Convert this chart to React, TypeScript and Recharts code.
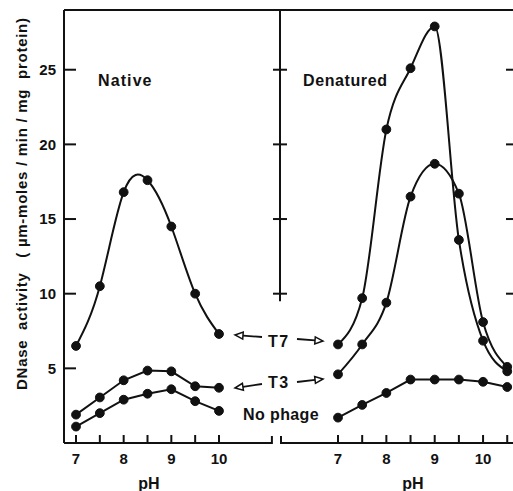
import React from 'react';
import { LineChart, Line, XAxis, YAxis, ReferenceLine } from 'recharts';

const nativePH = [7, 7.5, 8, 8.5, 9, 9.5, 10];
const nativeT7 = [6.5, 10.5, 16.8, 17.6, 14.5, 10.0, 7.3];
const nativeT3 = [1.9, 3.05, 4.2, 4.85, 4.8, 3.8, 3.7];
const nativeNoPhage = [1.1, 2.0, 2.9, 3.3, 3.6, 2.8, 2.15];

const denaturedPH = [7, 7.5, 8, 8.5, 9, 9.5, 10, 10.5];
const denaturedT7 = [6.6, 9.7, 21.0, 25.1, 27.9, 13.6, 6.85, 4.8];
const denaturedT3 = [4.6, 6.6, 9.4, 16.5, 18.7, 16.7, 8.1, 5.1];
const denaturedNoPhage = [1.7, 2.55, 3.35, 4.25, 4.25, 4.25, 4.1, 3.75];

const yTicks = [5, 10, 15, 20, 25];
const midTicks = [10, 15, 20, 25];
const nativeXTicks = [7, 7.5, 8, 8.5, 9, 9.5, 10];
const denaturedXTicks = [7, 7.5, 8, 8.5, 9, 9.5, 10, 10.5];

const nativeRows = nativePH.map((ph, i) => ({
  ph,
  t7: nativeT7[i],
  t3: nativeT3[i],
  none: nativeNoPhage[i],
}));
const denaturedRows = denaturedPH.map((ph, i) => ({
  ph,
  t7: denaturedT7[i],
  t3: denaturedT3[i],
  none: denaturedNoPhage[i],
}));

// axis domains
const Y_MAX = 29;
const N_X0 = 6.748;
const N_X1 = 11.28;
const N_BREAK = 11.11;
const D_X0 = 5.8;
const D_X1 = 10.64;

// plot boxes (px) – same numbers the charts get through width/height/margins
const TOP = 10;
const BOTTOM = 443;
const N_LEFT = 64;
const N_RIGHT = 280;
const D_LEFT = 280;
const D_RIGHT = 514;
const py = (v: number) => BOTTOM - (v / Y_MAX) * (BOTTOM - TOP);
const pxN = (v: number) => N_LEFT + ((v - N_X0) / (N_X1 - N_X0)) * (N_RIGHT - N_LEFT);
const pxD = (v: number) => D_LEFT + ((v - D_X0) / (D_X1 - D_X0)) * (D_RIGHT - D_LEFT);

const FONT = '"Liberation Sans", Arial, sans-serif';
const INK = '#111';
const dot = { r: 4.4, fill: INK, stroke: INK, strokeWidth: 1 };
const tickFont = { fontSize: 15, fontWeight: 'bold', fill: INK, fontFamily: FONT };
const intOnly = (v: number) => (Number.isInteger(v) ? String(v) : '');

const Arrow = ({ x1, y1, x2, y2 }: { x1: number; y1: number; x2: number; y2: number }) => {
  // shaft from (x1,y1), hollow head with tip at (x2,y2)
  const a = Math.atan2(y2 - y1, x2 - x1);
  const L = 8;
  const W = 3.5;
  const bx = x2 - L * Math.cos(a);
  const by = y2 - L * Math.sin(a);
  const px = -Math.sin(a) * W;
  const py2 = Math.cos(a) * W;
  return (
    <g>
      <line x1={x1} y1={y1} x2={bx} y2={by} stroke={INK} strokeWidth={1.8} />
      <polygon
        points={`${x2},${y2} ${bx + px},${by + py2} ${bx - px},${by - py2}`}
        fill="#fff"
        stroke={INK}
        strokeWidth={1.5}
      />
    </g>
  );
};

const L = (x1: number, y1: number, x2: number, y2: number, key: string) => (
  <line key={key} x1={x1} y1={y1} x2={x2} y2={y2} stroke={INK} strokeWidth={2} />
);

export default function App() {
  const lbl = { fontFamily: FONT, fontWeight: 'bold' as const, fill: INK };
  return (
    <div
      style={{
        position: 'absolute',
        left: 0,
        top: 0,
        width: 513,
        height: 491,
        overflow: 'hidden',
        background: '#fff',
      }}
    >
      <div style={{ position: 'absolute', left: 0, top: 0 }}>
        <LineChart width={N_RIGHT} height={491} data={nativeRows} margin={{ top: TOP, right: 0, left: 0, bottom: 0 }}>
          <XAxis
            dataKey="ph"
            type="number"
            domain={[N_X0, N_X1]}
            ticks={nativeXTicks}
            interval={0}
            allowDataOverflow
            axisLine={false}
            tickLine={false}
            tickSize={0}
            tickMargin={10}
            tickFormatter={intOnly}
            height={491 - BOTTOM}
            tick={tickFont}
          />
          <YAxis
            domain={[0, Y_MAX]}
            ticks={yTicks}
            interval={0}
            width={N_LEFT}
            axisLine={{ stroke: INK, strokeWidth: 2 }}
            tickLine={false}
            tickSize={0}
            tickMargin={8}
            tick={tickFont}
          />
          <ReferenceLine y={Y_MAX} stroke={INK} strokeWidth={2} />
          <ReferenceLine
            segment={[
              { x: N_X0, y: 0 },
              { x: N_BREAK, y: 0 },
            ]}
            stroke={INK}
            strokeWidth={2}
          />
          <Line type="natural" dataKey="t7" stroke={INK} strokeWidth={2} dot={dot} activeDot={false} isAnimationActive={false} />
          <Line type="linear" dataKey="t3" stroke={INK} strokeWidth={2} dot={dot} activeDot={false} isAnimationActive={false} />
          <Line type="linear" dataKey="none" stroke={INK} strokeWidth={2} dot={dot} activeDot={false} isAnimationActive={false} />
        </LineChart>
      </div>

      <div style={{ position: 'absolute', left: D_LEFT - 10, top: 0 }}>
        <LineChart width={D_RIGHT - D_LEFT + 10} height={491} data={denaturedRows} margin={{ top: TOP, right: 0, left: 10, bottom: 0 }}>
          <XAxis
            dataKey="ph"
            type="number"
            domain={[D_X0, D_X1]}
            ticks={denaturedXTicks}
            interval={0}
            allowDataOverflow
            axisLine={{ stroke: INK, strokeWidth: 2 }}
            tickLine={false}
            tickSize={0}
            tickMargin={10}
            tickFormatter={intOnly}
            height={491 - BOTTOM}
            tick={tickFont}
          />
          <YAxis domain={[0, Y_MAX]} width={0} hide />
          <ReferenceLine y={Y_MAX} stroke={INK} strokeWidth={2} />
          <ReferenceLine
            segment={[
              { x: D_X0, y: 9.5 },
              { x: D_X0, y: Y_MAX },
            ]}
            stroke={INK}
            strokeWidth={2}
          />
          <Line type="monotone" dataKey="t7" stroke={INK} strokeWidth={2} dot={dot} activeDot={false} isAnimationActive={false} />
          <Line type="monotone" dataKey="t3" stroke={INK} strokeWidth={2} dot={dot} activeDot={false} isAnimationActive={false} />
          <Line type="linear" dataKey="none" stroke={INK} strokeWidth={2} dot={dot} activeDot={false} isAnimationActive={false} />
        </LineChart>
      </div>

      <svg width={513} height={491} style={{ position: 'absolute', left: 0, top: 0, pointerEvents: 'none' }}>
        {/* inward tick marks */}
        {yTicks.map((v) => L(N_LEFT, py(v), N_LEFT + 12, py(v), 'yl' + v))}
        {midTicks.map((v) => L(D_LEFT - 7, py(v), D_LEFT + 7, py(v), 'ym' + v))}
        {midTicks.map((v) => L(D_RIGHT - 8, py(v), D_RIGHT, py(v), 'yr' + v))}
        {nativeXTicks.map((v) => L(pxN(v), BOTTOM, pxN(v), BOTTOM - 8, 'xn' + v))}
        {denaturedXTicks.map((v) => L(pxD(v), BOTTOM, pxD(v), BOTTOM - 8, 'xd' + v))}
        {L(pxN(N_BREAK), BOTTOM + 1, pxN(N_BREAK), BOTTOM - 7, 'bn')}
        {L(D_LEFT + 1, BOTTOM + 1, D_LEFT + 1, BOTTOM - 7, 'bd')}

        <text x={98} y={86} fontSize={16} letterSpacing={1.1} {...lbl}>
          Native
        </text>
        <text x={303} y={86} fontSize={16} letterSpacing={0.6} {...lbl}>
          Denatured
        </text>

        <text x={268} y={347} fontSize={16} letterSpacing={1.5} {...lbl}>
          T7
        </text>
        <Arrow x1={262} y1={337} x2={235} y2={335} />
        <Arrow x1={297} y1={339} x2={323} y2={341} />

        <text x={268} y={388} fontSize={16} letterSpacing={1.5} {...lbl}>
          T3
        </text>
        <Arrow x1={262} y1={384} x2={235} y2={388} />
        <Arrow x1={297} y1={382} x2={323} y2={379} />

        <text x={243} y={420} fontSize={16} letterSpacing={0.4} {...lbl}>
          No phage
        </text>

        <text x={149} y={489} fontSize={16} textAnchor="middle" {...lbl}>
          pH
        </text>
        <text x={413} y={489} fontSize={16} textAnchor="middle" {...lbl}>
          pH
        </text>

        <text
          transform="translate(26.5, 204) rotate(-90)"
          x={0}
          y={0}
          fontSize={15}
          textAnchor="middle"
          textLength={372}
          lengthAdjust="spacing"
          style={{ whiteSpace: 'pre' }}
          {...lbl}
        >
          {'DNase  activity   ( µm-moles / min / mg  protein)'}
        </text>
      </svg>
    </div>
  );
}
